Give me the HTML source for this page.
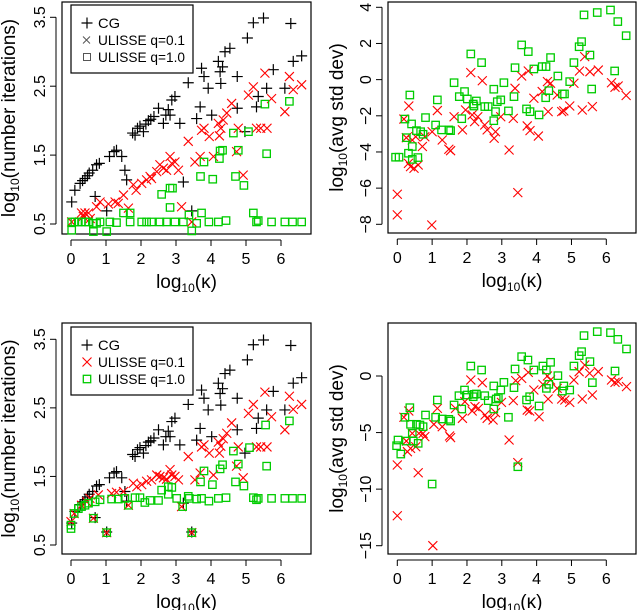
<!DOCTYPE html>
<html><head><meta charset="utf-8"><style>
body{margin:0;background:#fff;}
svg{display:block;font-family:"Liberation Sans",sans-serif;}
</style></head><body>
<svg id="chart" width="638" height="610" viewBox="0 0 638 610" xmlns="http://www.w3.org/2000/svg"></svg>
<script>
// ---- data (log10 kappa, value) ----
const xTicks = [0,1,2,3,4,5,6];
const itTicks = [0.5,1.5,2.5,3.5];
const sdTicksTop = [-8,-6,-4,-2,0,2,4];
const sdTicksBot = [-15,-10,-5,0];

const cgX = [0.02,0.11,0.26,0.33,0.40,0.47,0.52,0.62,0.73,0.81,0.69,1.02,1.10,1.23,1.30,1.45,1.54,1.59,1.76,1.83,1.90,1.97,2.07,2.14,2.21,2.28,2.37,2.50,2.64,2.71,2.78,2.83,2.88,2.97,3.11,3.21,3.35,3.45,3.59,3.69,3.73,3.80,3.92,4.02,4.21,4.26,4.28,4.33,4.40,4.54,4.75,4.75,4.97,5.04,5.21,5.30,5.35,5.50,5.59,5.78,6.11,6.28,6.35,6.59];
const cgY = [0.82,0.99,1.09,1.13,1.16,1.20,1.24,1.28,1.36,1.38,0.90,0.69,1.48,1.55,1.57,1.48,1.28,1.14,1.82,1.79,1.89,1.92,1.84,1.95,2.00,2.02,2.06,2.18,1.96,2.08,2.16,2.08,2.30,2.35,1.96,1.11,2.55,0.69,2.03,2.20,2.76,2.64,2.47,2.08,2.86,2.71,2.54,2.78,3.00,3.05,2.64,2.18,1.84,3.20,3.42,2.20,2.35,3.49,2.47,2.74,2.47,3.41,2.86,2.94];

const r1X = [0.02,0.30,0.40,0.50,0.35,0.55,0.73,0.83,1.07,1.26,1.35,1.50,1.64,1.78,1.86,2.02,2.16,2.26,2.30,2.45,2.54,2.64,2.73,2.83,2.88,2.97,3.07,3.16,3.35,3.45,3.54,3.69,3.73,3.80,3.95,4.07,4.21,4.24,4.28,4.35,4.45,4.59,4.73,4.78,4.92,5.07,5.21,5.30,5.42,5.54,5.60,5.73,6.11,6.24,6.35,6.59];
const r1Y = [0.53,0.66,0.66,0.66,0.61,0.58,0.75,0.82,0.79,0.82,0.80,0.92,0.73,1.07,0.99,1.09,1.14,1.19,1.16,1.26,1.36,1.31,1.28,1.48,1.38,1.40,1.28,0.75,1.70,0.53,1.40,1.48,1.86,1.89,1.77,1.48,1.96,1.78,1.89,2.01,2.11,2.25,1.55,1.89,1.21,2.37,2.49,1.89,1.89,2.69,1.89,2.32,2.13,2.64,2.45,2.52];

const g1X = [0.02,0.02,0.11,0.21,0.30,0.40,0.50,0.64,0.64,0.73,0.83,1.02,1.11,1.30,1.50,1.69,1.69,2.02,2.16,2.30,2.54,2.73,2.97,3.21,3.37,3.45,3.59,3.73,3.94,4.21,4.43,2.59,2.83,2.90,2.83,3.70,3.80,4.05,4.24,4.26,4.33,4.64,4.70,4.78,4.94,5.07,5.21,5.30,5.35,5.59,5.54,5.73,6.11,6.24,6.33,6.59];
const g1Y = [0.41,0.53,0.53,0.53,0.53,0.53,0.53,0.51,0.39,0.51,0.53,0.39,0.53,0.52,0.66,0.66,0.53,0.53,0.53,0.53,0.53,0.53,0.53,0.53,0.63,0.40,0.51,0.66,0.53,0.53,0.55,0.93,1.02,1.02,0.74,1.19,1.40,1.15,1.45,1.56,1.57,1.82,1.19,1.57,1.06,1.84,0.66,0.53,0.55,1.52,2.24,0.53,0.53,2.28,0.53,0.53];

const r2X = [0.00,0.09,0.30,0.45,0.54,0.64,0.78,1.02,1.16,1.30,1.50,1.64,1.78,1.88,2.02,2.16,2.30,2.45,2.54,2.64,2.73,2.83,2.88,2.97,3.07,3.16,3.35,3.45,3.54,3.69,3.73,3.80,3.95,4.07,4.21,4.24,4.28,4.35,4.45,4.59,4.73,4.78,4.92,5.07,5.21,5.30,5.42,5.54,5.60,5.73,6.11,6.24,6.35,6.59];
const r2Y = [0.84,0.96,1.08,1.13,1.18,0.89,1.23,0.68,1.25,1.27,1.28,1.08,1.40,1.35,1.38,1.43,1.45,1.52,1.50,1.48,1.46,1.60,1.52,1.50,1.45,1.06,1.79,0.68,1.45,1.55,1.93,1.96,1.84,1.52,2.00,1.84,1.94,2.05,2.13,2.28,1.65,1.93,1.48,2.42,2.55,1.93,1.93,2.73,1.93,2.37,2.18,2.67,2.48,2.55];

const g2X = [0.00,0.00,0.09,0.21,0.30,0.40,0.50,0.64,0.69,0.83,1.02,1.16,1.35,1.54,1.64,1.83,1.97,2.11,2.26,2.50,2.59,2.78,2.88,2.78,3.02,3.19,3.35,3.38,3.45,3.59,3.73,3.70,3.80,3.94,4.04,4.21,4.26,4.33,4.43,4.64,4.70,4.78,4.94,5.10,5.21,5.30,5.35,5.56,5.59,5.73,6.11,6.24,6.33,6.59];
const g2Y = [0.79,0.74,0.96,1.03,1.06,1.08,1.11,0.89,1.13,1.16,0.68,1.17,1.17,1.18,1.08,1.19,1.19,1.12,1.15,1.15,1.30,1.35,1.34,1.24,1.18,1.06,1.21,1.18,0.68,1.17,1.18,1.42,1.58,1.14,1.38,1.18,1.61,1.67,1.19,1.87,1.42,1.68,1.36,1.92,1.19,1.16,1.18,2.25,1.65,1.18,1.18,2.31,1.18,1.18];

const sr1X = [0.00,0.00,0.19,0.26,0.33,0.32,0.38,0.43,0.48,0.60,0.53,0.72,0.79,0.99,1.00,1.15,1.29,1.48,1.53,1.63,1.87,1.96,2.11,2.15,2.22,2.31,2.44,2.51,2.58,2.78,2.82,2.97,3.21,3.33,3.38,3.46,3.57,3.73,3.76,3.81,3.92,4.05,4.16,4.31,4.33,4.40,4.59,4.72,4.78,4.95,5.07,5.23,5.31,5.38,5.53,5.60,5.77,6.15,6.25,6.34,6.57];
const sr1Y = [-6.34,-7.48,-2.18,-3.21,-1.46,-4.63,-4.81,-3.34,-4.90,-4.72,-3.16,-3.70,-3.16,-8.04,-2.88,-1.71,-3.34,-3.85,-3.93,-2.05,-2.78,-1.68,0.39,-1.95,-2.32,-2.05,-0.06,-2.51,-2.78,-3.24,-2.88,-2.05,-3.89,-2.14,-0.48,-6.25,0.20,-2.56,0.48,-2.82,-1.03,-3.12,-0.66,-0.11,-1.77,-0.20,-0.85,-1.77,-1.73,-1.46,-0.20,0.48,-1.68,1.27,0.44,-1.49,0.53,-0.17,-0.42,-0.35,-0.88];

const sg1X = [-0.05,0.05,0.22,0.26,0.32,0.36,0.41,0.43,0.43,0.55,0.59,0.67,0.74,0.81,1.10,1.15,1.27,1.48,1.53,1.63,1.78,1.85,1.93,2.01,2.11,2.18,2.20,2.27,2.42,2.51,2.61,2.77,2.77,2.82,2.87,2.97,3.06,3.19,3.35,3.38,3.57,3.71,3.76,3.81,3.92,4.07,4.16,4.27,4.26,4.35,4.40,4.61,4.74,4.80,4.95,5.07,5.22,5.29,5.36,5.53,5.58,5.74,6.12,6.24,6.33,6.57];
const sg1Y = [-4.29,-4.29,-2.18,-3.21,-4.07,-0.85,-2.45,-3.70,-4.41,-2.82,-4.31,-2.88,-3.02,-2.10,-2.51,-1.12,-2.78,-2.78,-2.82,-0.17,-0.94,-2.16,-0.66,-1.07,1.42,-1.35,-1.46,-1.18,0.94,-1.49,-1.49,-0.53,-2.27,-1.77,-1.22,-1.12,-0.17,-1.73,-0.94,0.66,1.92,-1.62,1.55,-1.77,0.59,-1.95,0.72,0.72,-1.00,-0.61,1.22,0.20,-0.79,-0.79,-0.11,0.94,1.82,2.10,3.58,1.36,-0.52,3.71,3.85,0.48,3.21,2.43];

const sr2X = [0.00,0.00,0.19,0.26,0.33,0.29,0.38,0.43,0.53,0.60,0.62,0.74,0.79,1.02,1.05,1.15,1.29,1.50,1.53,1.67,1.87,1.94,2.11,2.15,2.23,2.33,2.44,2.52,2.58,2.75,2.82,2.99,3.21,3.33,3.40,3.46,3.57,3.73,3.76,3.80,3.92,4.07,4.18,4.31,4.33,4.40,4.59,4.72,4.81,4.95,5.07,5.22,5.31,5.38,5.52,5.60,5.77,6.15,6.25,6.34,6.58];
const sr2Y = [-7.87,-12.35,-3.65,-5.75,-3.09,-6.69,-6.40,-5.07,-6.25,-8.55,-5.07,-5.07,-5.36,-15.0,-4.27,-2.86,-4.48,-5.30,-5.45,-2.86,-3.74,-2.27,-0.35,-3.09,-2.71,-2.86,-0.59,-3.45,-3.74,-3.89,-3.24,-2.33,-5.66,-2.18,-0.41,-7.66,-0.21,-3.01,0.32,-3.09,-1.24,-3.60,-0.74,0.00,-2.03,-0.35,-1.09,-2.03,-2.12,-2.33,-0.35,0.38,-2.03,0.97,0.24,-1.68,0.38,-0.35,-0.56,-0.50,-0.94];

const sg2X = [-0.02,0.02,0.10,0.22,0.26,0.36,0.38,0.46,0.43,0.55,0.60,0.65,0.74,0.81,1.00,1.10,1.15,1.29,1.48,1.53,1.63,1.77,1.85,1.93,2.01,2.11,2.18,2.21,2.27,2.42,2.51,2.61,2.77,2.77,2.84,2.90,2.97,3.06,3.19,3.35,3.38,3.46,3.57,3.71,3.75,3.80,3.92,4.07,4.18,4.28,4.28,4.35,4.40,4.61,4.74,4.78,4.95,5.07,5.22,5.29,5.36,5.53,5.60,5.74,6.12,6.25,6.33,6.58];
const sg2Y = [-6.16,-5.66,-6.90,-3.65,-5.75,-2.80,-4.27,-5.75,-5.07,-4.27,-5.95,-4.33,-4.48,-3.45,-9.55,-3.65,-2.12,-3.80,-3.83,-3.98,-2.56,-1.74,-2.92,-1.24,-1.68,0.88,-1.83,-1.62,-1.59,0.53,-1.74,-2.18,-0.88,-2.92,-2.03,-1.92,-1.24,-0.56,-3.65,-1.03,0.62,-8.02,1.71,-2.12,1.41,-1.83,0.53,-2.65,0.88,0.53,-1.09,-0.74,1.21,0.03,-1.33,-0.88,-1.24,0.88,1.80,2.15,3.57,1.27,-0.59,3.92,3.83,0.44,3.24,2.39];

// ---- rendering ----
const NS = 'http://www.w3.org/2000/svg';
const svg = document.getElementById('chart');
function mk(tag, attrs, parent){const e=document.createElementNS(NS,tag);for(const k in attrs)e.setAttribute(k,attrs[k]);(parent||svg).appendChild(e);return e;}
function lin(d0,d1,p0,p1){return v=>p0+(v-d0)*(p1-p0)/(d1-d0);}

function marker(g, kind, px, py){
  let e;
  if(kind==='plus'){
    e=mk('path',{d:`M${px-5.5},${py}H${px+5.5}M${px},${py-5.5}V${py+5.5}`,stroke:'#000','stroke-width':1.2,fill:'none'},g);
    
  } else if(kind==='cross'){
    e=mk('path',{d:`M${px-4.5},${py-4.5}L${px+4.5},${py+4.5}M${px-4.5},${py+4.5}L${px+4.5},${py-4.5}`,stroke:'#f00','stroke-width':1.1,fill:'none'},g);
    
  } else {
    e=mk('rect',{x:px-3.7,y:py-3.7,width:7.4,height:7.4,stroke:'#0c0','stroke-width':1.3,fill:'none'},g);
    
  }
  
}

function panel(p){
  const g=mk('g',{});
  
  
  const xs=lin(0,6,p.x0,p.x6), ys=lin(p.ya,p.yb,p.pya,p.pyb);
  const box=mk('rect',{x:p.bx,y:p.by,width:p.bw,height:p.bh,fill:'none',stroke:'#000','stroke-width':1.2},g);
  
  const bottom=p.by+p.bh;
  const xa=mk('g',{},g);
  mk('line',{x1:xs(xTicks[0]),x2:xs(xTicks[xTicks.length-1]),y1:bottom+6,y2:bottom+6,stroke:'#000'},xa);
  xTicks.forEach(t=>{
    mk('line',{x1:xs(t),x2:xs(t),y1:bottom+6,y2:bottom+12,stroke:'#000'},xa);
    const tx=mk('text',{x:xs(t),y:bottom+30,'text-anchor':'middle','font-size':16},xa);tx.textContent=t;
    
  });
  const xt=mk('text',{x:(p.bx+p.bw/2),y:bottom+54,'text-anchor':'middle','font-size':19},g);
  
  xt.innerHTML='log<tspan font-size="12" dy="4">10</tspan><tspan dy="-4">(κ)</tspan>';
  const ya=mk('g',{},g);
  const ax=p.bx-6;
  mk('line',{x1:ax,x2:ax,y1:ys(p.ticks[0]),y2:ys(p.ticks[p.ticks.length-1]),stroke:'#000'},ya);
  p.ticks.forEach(t=>{
    mk('line',{x1:ax-6,x2:ax,y1:ys(t),y2:ys(t),stroke:'#000'},ya);
    const tx=mk('text',{x:0,y:0,'text-anchor':'middle','font-size':16,transform:`translate(${ax-11},${ys(t)}) rotate(-90)`},ya);
    tx.textContent=(t<0?'\u2212'+(-t):t);
    
  });
  const yt=mk('text',{x:0,y:0,'text-anchor':'middle','font-size':19,transform:`translate(${p.ytx},${p.by+p.bh/2}) rotate(-90)`},g);
  
  yt.innerHTML='log<tspan font-size="12" dy="4">10</tspan><tspan dy="-4">('+p.ytitle+')</tspan>';
  p.series.forEach(s=>{
    const sg=mk('g',{},g);
    s.x.forEach((v,i)=>marker(sg,s.kind,xs(v),ys(s.y[i])));
  });
  if(p.legend){
    const lg=mk('g',{},g);
    const lx=p.bx+9, ly=p.legend;
    mk('rect',{x:lx,y:ly,width:122,height:68,fill:'#fff',stroke:'#000','stroke-width':1.2},lg);
    const items=[['plus','CG',22],['cross','ULISSE q=0.1',87],['square','ULISSE q=1.0',87]];
    items.forEach((it,i)=>{
      const e=mk('g',{},lg);
      const cy=ly+18+i*17;
      const kind=(p.legendGrey&&i>0)?it[0]+'-grey':it[0];
      if(kind==='cross-grey'){mk('path',{d:`M${lx+12},${cy-3.5}l7,7m-7,0l7,-7`,stroke:'#555',fill:'none'},e);}
      else if(kind==='square-grey'){mk('rect',{x:lx+12.5,y:cy-3.5,width:7,height:7,stroke:'#555',fill:'none'},e);}
      else marker(e,it[0],lx+16,cy);
      const t=mk('text',{x:lx+27,y:cy+5,'font-size':14,textLength:it[2],lengthAdjust:'spacingAndGlyphs'},e);t.textContent=it[1];
    });
  }
}

panel({name:'panel-iterations-top',bx:62,by:2,bw:249,bh:232,x0:71,x6:281,ya:3.5,yb:0.5,pya:17.3,pyb:224,ticks:itTicks,ytx:15,ytitle:'number iterations',legend:5,legendGrey:true,
  series:[{name:'series-cg',kind:'plus',x:cgX,y:cgY},{name:'series-ulisse-q01',kind:'cross',x:r1X,y:r1Y},{name:'series-ulisse-q10',kind:'square',x:g1X,y:g1Y}]});
panel({name:'panel-stddev-top',bx:388,by:2,bw:248,bh:231,x0:397.3,x6:606.3,ya:4,yb:-8,pya:7.3,pyb:224.3,ticks:sdTicksTop,ytx:343,ytitle:'avg std dev',
  series:[{name:'series-ulisse-q01',kind:'cross',x:sr1X,y:sr1Y},{name:'series-ulisse-q10',kind:'square',x:sg1X,y:sg1Y}]});
panel({name:'panel-iterations-bottom',bx:62,by:323,bw:249,bh:231,x0:71,x6:281,ya:3.5,yb:0.5,pya:339.3,pyb:545,ticks:itTicks,ytx:15,ytitle:'number iterations',legend:327,
  series:[{name:'series-cg',kind:'plus',x:cgX,y:cgY},{name:'series-ulisse-q01',kind:'cross',x:r2X,y:r2Y},{name:'series-ulisse-q10',kind:'square',x:g2X,y:g2Y}]});
panel({name:'panel-stddev-bottom',bx:388,by:323,bw:248,bh:231,x0:397.3,x6:606.3,ya:0,yb:-15,pya:376,pyb:545.7,ticks:sdTicksBot,ytx:343,ytitle:'avg std dev',
  series:[{name:'series-ulisse-q01',kind:'cross',x:sr2X,y:sr2Y},{name:'series-ulisse-q10',kind:'square',x:sg2X,y:sg2Y}]});
</script>
</body></html>
